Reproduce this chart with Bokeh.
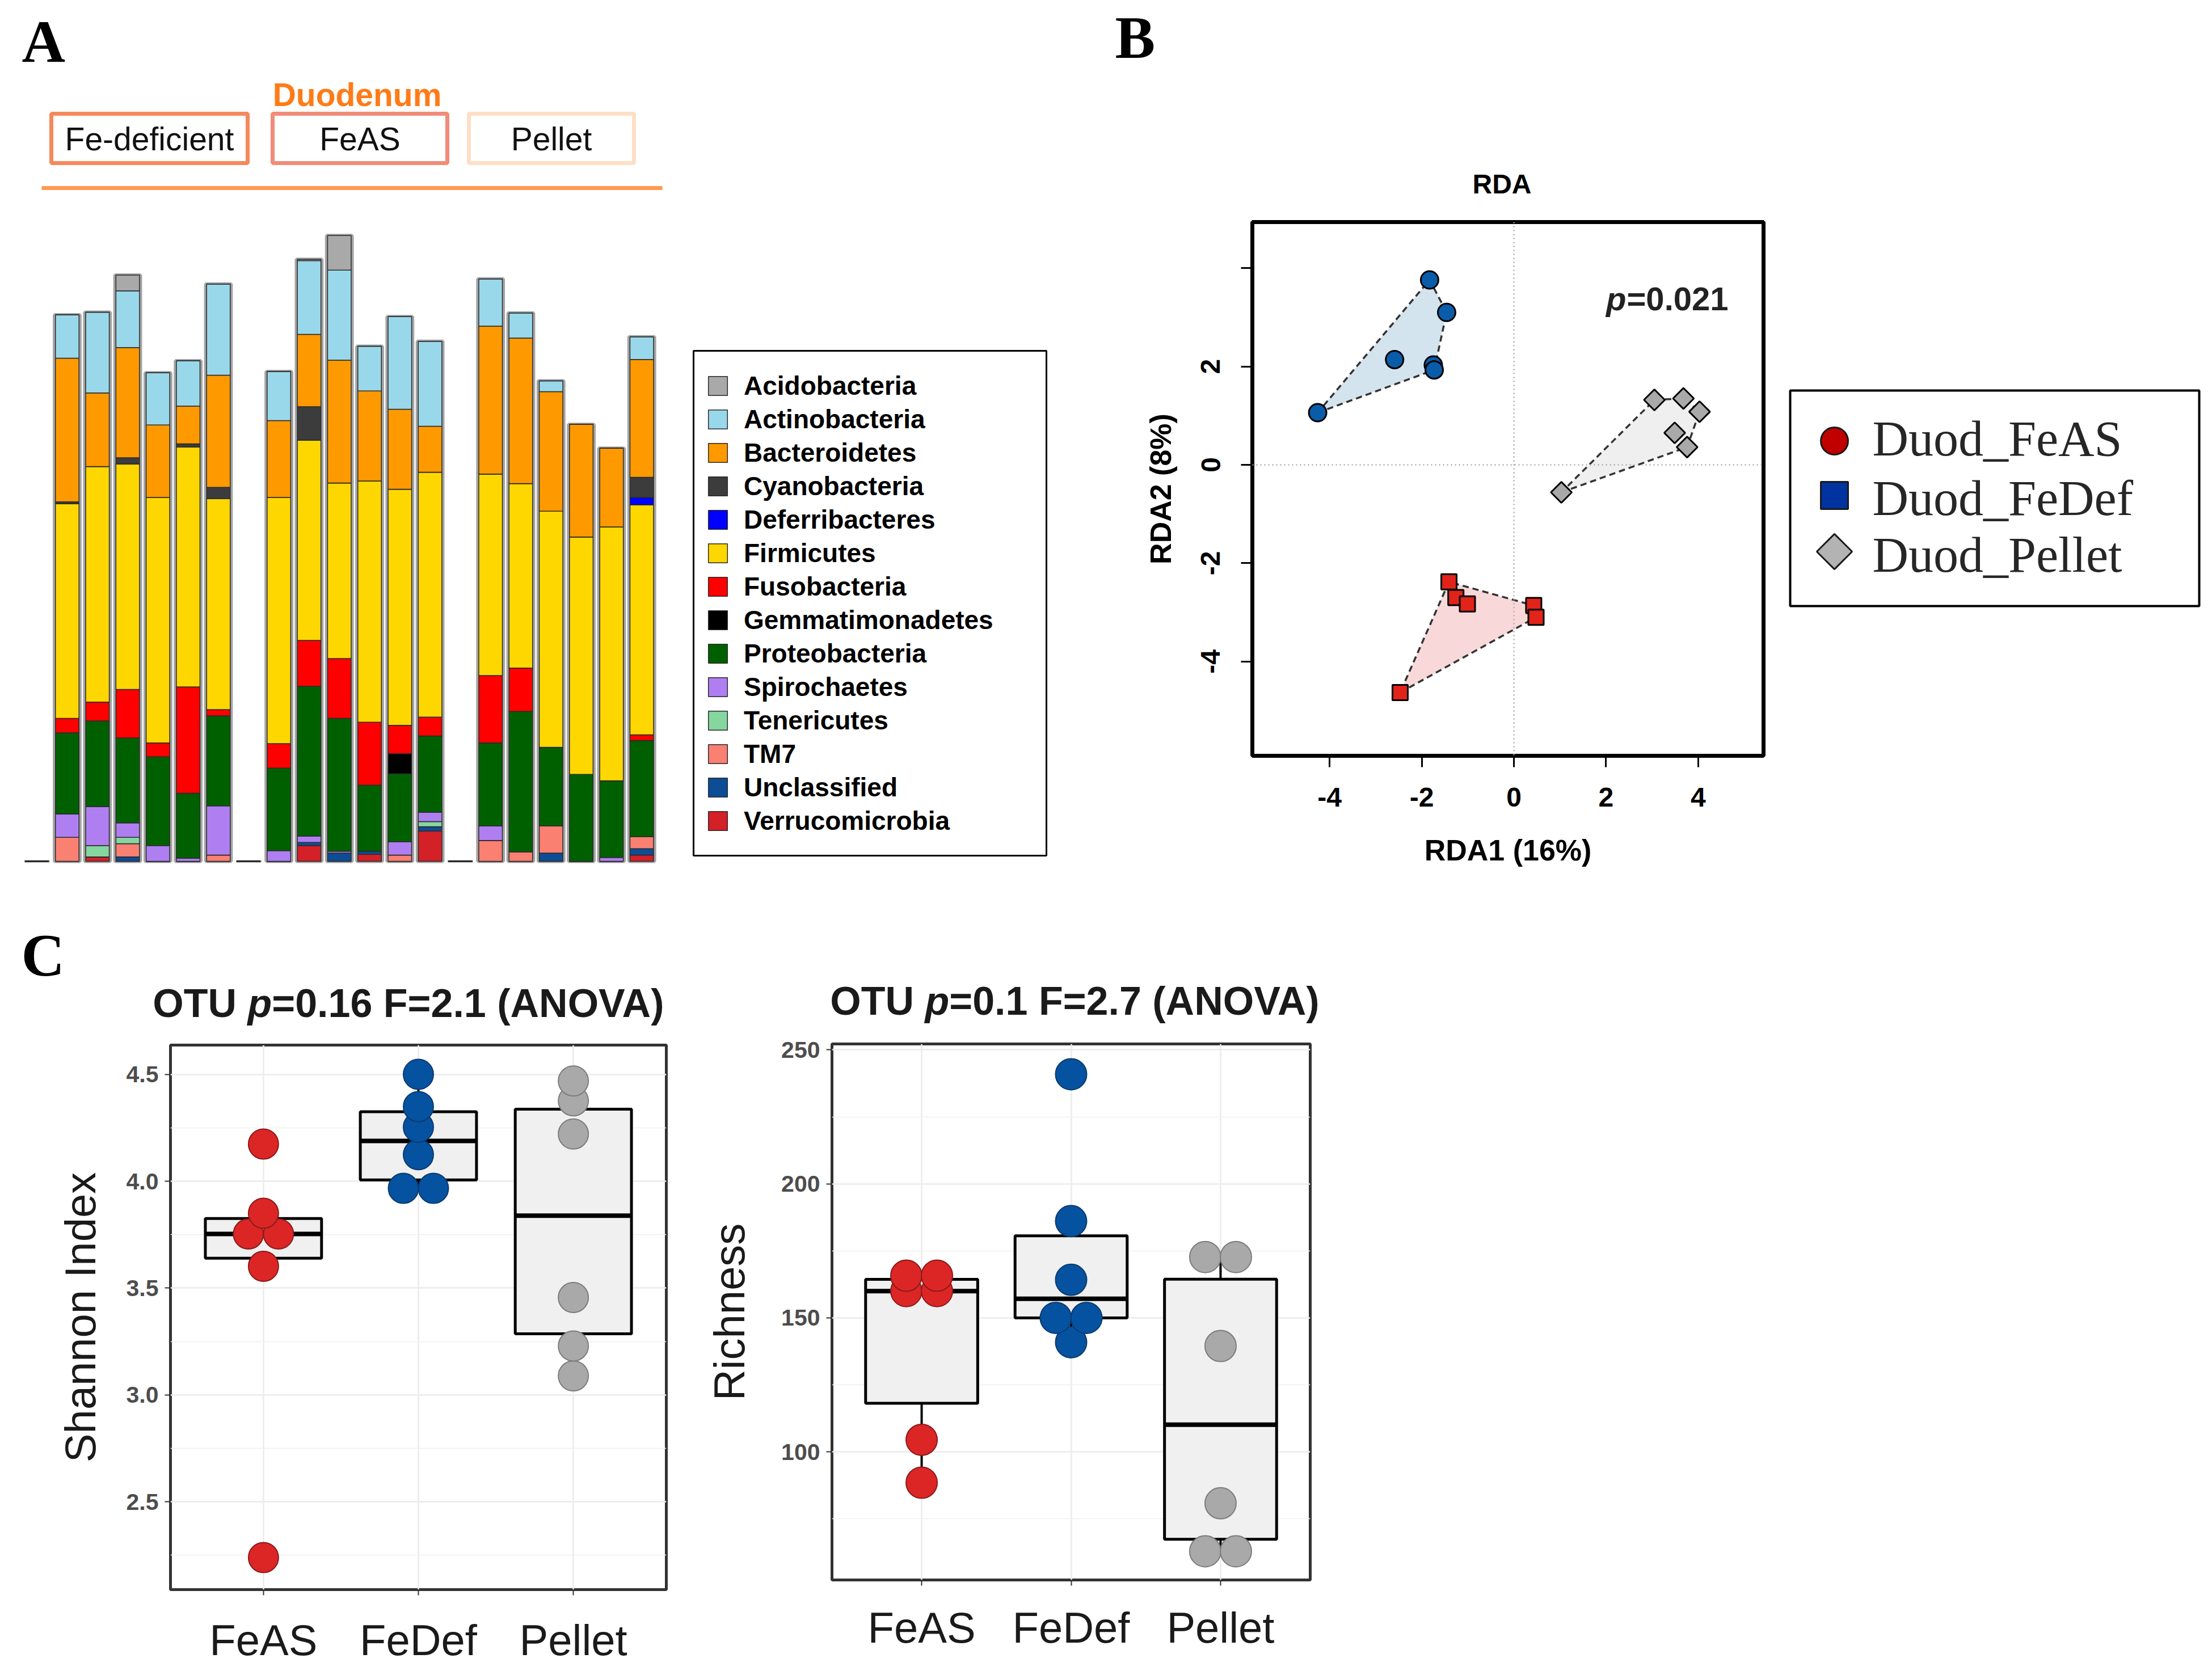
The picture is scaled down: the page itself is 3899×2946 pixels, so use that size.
import numpy as np
from bokeh.plotting import figure
from bokeh.models import (Label, BoxAnnotation, Legend, LegendItem, FixedTicker,
                          Range1d, ColumnDataSource, Span)
from bokeh.embed import file_html
from bokeh.resources import INLINE

SANS = "Liberation Sans"
SERIF = "Liberation Serif"

# ============================ DATA ============================
# ---- Panel A: stacked phylum abundance, 21 bar slots = 3 diets x (1 empty + 6 samples)
region_name = "Duodenum"
group_names = ["Fe-deficient", "FeAS", "Pellet"]
phyla = ["Acidobacteria", "Actinobacteria", "Bacteroidetes", "Cyanobacteria",
         "Deferribacteres", "Firmicutes", "Fusobacteria", "Gemmatimonadetes",
         "Proteobacteria", "Spirochaetes", "Tenericutes", "TM7", "Unclassified",
         "Verrucomicrobia"]
phylum_colors = ["#A9A9A9", "#99D8EA", "#FF9900", "#3C3C3C", "#0000FF", "#FFD700",
                 "#FF0000", "#000000", "#006000", "#AF7FF2", "#86D6A0", "#FA8072",
                 "#0C4D96", "#D42027"]

Acidobacteria    = [0, 0, 0, 2.5, 0, 0, 0,    0, 0, 0.2, 5.5, 0, 0, 0,    0, 0, 0, 0, 0, 0, 0]
Actinobacteria   = [0, 6.9, 12.8, 9.0, 8.3, 7.2, 14.5,    0, 7.8, 11.7, 14.3, 7.1, 14.7, 13.5,    0, 7.5, 4.0, 1.7, 0, 0, 3.6]
Bacteroidetes    = [0, 22.8, 11.7, 17.5, 11.5, 6.0, 17.8,    0, 12.2, 11.5, 19.5, 14.3, 12.7, 7.3,    0, 23.5, 23.1, 19.0, 17.9, 12.5, 18.7]
Cyanobacteria    = [0, 0.3, 0, 1.0, 0, 0.5, 1.8,    0, 0, 5.3, 0, 0, 0, 0,    0, 0, 0, 0, 0, 0, 3.2]
Deferribacteres  = [0, 0, 0, 0, 0, 0, 0,    0, 0, 0, 0, 0, 0, 0,    0, 0, 0, 0, 0, 0, 1.2]
Firmicutes       = [0, 34.1, 37.4, 35.8, 39.0, 38.1, 33.5,    0, 39.1, 31.8, 27.9, 38.3, 37.5, 38.9,    0, 32.0, 29.3, 37.5, 37.7, 40.3, 36.5]
Fusobacteria     = [0, 2.3, 3.0, 7.7, 2.2, 16.9, 1.0,    0, 3.9, 7.3, 9.5, 10.0, 4.5, 3.0,    0, 10.7, 6.9, 0, 0, 0, 0.9]
Gemmatimonadetes = [0, 0, 0, 0, 0, 0, 0,    0, 0, 0, 0, 0, 3.2, 0,    0, 0, 0, 0, 0, 0, 0]
Proteobacteria   = [0, 12.9, 13.6, 13.5, 14.1, 10.3, 14.3,    0, 13.1, 23.8, 21.1, 10.5, 10.8, 12.1,    0, 13.2, 22.3, 12.5, 13.8, 12.2, 15.3]
Spirochaetes     = [0, 3.7, 6.2, 2.3, 2.5, 0.5, 7.8,    0, 1.7, 1.0, 0.3, 0, 2.1, 1.5,    0, 2.3, 0, 0, 0, 0.6, 0]
Tenericutes      = [0, 0, 1.8, 1.0, 0, 0, 0,    0, 0, 0, 0, 0, 0, 0.8,    0, 0, 0, 0, 0, 0, 0]
TM7              = [0, 3.8, 0, 2.1, 0, 0, 1.0,    0, 0, 0, 0, 0, 1.0, 0,    0, 3.3, 1.5, 4.3, 0, 0, 1.9]
Unclassified     = [0, 0, 0, 0.7, 0, 0, 0,    0, 0, 0.5, 1.3, 0.5, 0, 0.7,    0, 0, 0, 1.3, 0, 0, 1.0]
Verrucomicrobia  = [0, 0, 0.7, 0, 0, 0, 0,    0, 0, 2.5, 0, 1.1, 0, 4.8,    0, 0, 0, 0, 0, 0, 1.0]

# ---- Panel B: RDA scores
rda_title = "RDA"
rda_xlabel = "RDA1 (16%)"
rda_ylabel = "RDA2 (8%)"
rda_p = "=0.021"
rda_ticks = [-4, -2, 0, 2, 4]
rda_xtick_labels = ["-4", "-2", "0", "2", "4"]
rda_ytick_labels = ["-4", "-2", "0", "2", ""]
fedef_x = [-1.83, -1.46, -2.59, -1.75, -1.73, -4.26]
fedef_y = [3.76, 3.10, 2.14, 2.03, 1.93, 1.06]
pellet_x = [3.05, 3.68, 4.03, 3.49, 3.76, 1.03]
pellet_y = [1.32, 1.35, 1.08, 0.65, 0.36, -0.56]
feas_x = [-1.41, -1.26, -1.01, 0.43, 0.48, -2.47]
feas_y = [-2.38, -2.70, -2.83, -2.86, -3.10, -4.63]
rda_legend_labels = ["Duod_FeAS", "Duod_FeDef", "Duod_Pellet"]

# ---- Panel C: alpha diversity
diet_labels = ["FeAS", "FeDef", "Pellet"]
shannon_FeAS = [4.174, 3.850, 3.753, 3.753, 3.602, 2.239]
shannon_FeDef = [4.500, 4.349, 4.253, 4.124, 3.967, 3.967]
shannon_Pellet = [4.469, 4.376, 4.221, 3.456, 3.229, 3.089]
richness_FeAS = [166.0, 165.5, 161.0, 159.0, 104.5, 88.5]
richness_FeDef = [240.9, 186.1, 164.2, 150.0, 150.0, 140.9]
richness_Pellet = [172.7, 172.7, 139.5, 80.8, 62.9, 62.9]
shannon_ticks = [2.5, 3.0, 3.5, 4.0, 4.5]
shannon_tick_labels = ["2.5", "3.0", "3.5", "4.0", "4.5"]
shannon_minor = [2.25, 2.75, 3.25, 3.75, 4.25]
richness_ticks = [100, 150, 200, 250]
richness_tick_labels = ["100", "150", "200", "250"]
richness_minor = [75, 125, 175, 225]
c1_title = ("OTU", "=0.16 F=2.1 (ANOVA)")
c2_title = ("OTU", "=0.1 F=2.7 (ANOVA)")

# ============================ HELPERS ============================
class Frame:
    """maps page pixel positions to data coordinates of one figure frame"""
    def __init__(self, left, top, width, height, xr, yr):
        self.l, self.t, self.w, self.h = left, top, width, height
        self.xr, self.yr = xr, yr

    def X(self, px):
        return self.xr[0] + (px - self.l) / self.w * (self.xr[1] - self.xr[0])

    def Y(self, py):
        return self.yr[1] - (py - self.t) / self.h * (self.yr[1] - self.yr[0])


def lab(p, fr, px, py, text, size, font=SANS, style="normal", color="#1A1A1A",
        align="left"):
    # py is the wanted baseline; bokeh's alphabetic anchor sits ~0.36 em above it
    p.add_layout(Label(x=fr.X(px), y=fr.Y(py - 0.36 * size), text=text,
                       text_font=font, text_font_style=style,
                       text_font_size=f"{size}px", text_color=color,
                       text_align=align, text_baseline="alphabetic"))


def box(p, fr, l, r, t, b, color, width):
    p.add_layout(BoxAnnotation(left=fr.X(l), right=fr.X(r), top=fr.Y(t), bottom=fr.Y(b),
                               fill_color=None, fill_alpha=0, line_color=color,
                               line_alpha=1.0, line_width=width))


def make_fig(L, T, W, H, frame, xr, yr, axes=True):
    """figure placed at page position (L, T); frame = (left, top, w, h) in page px"""
    fl, ft, fw, fh = frame
    kw = dict(width=W, height=H, x_range=Range1d(*xr), y_range=Range1d(*yr),
              min_border_left=fl - L, min_border_top=ft - T,
              min_border_right=L + W - fl - fw, min_border_bottom=T + H - ft - fh,
              output_backend="svg", toolbar_location=None, title=None,
              background_fill_color="white", border_fill_color="white",
              styles={"position": "absolute", "left": f"{L}px", "top": f"{T}px"})
    if not axes:
        kw.update(x_axis_location=None, y_axis_location=None)
    p = figure(**kw)
    if not axes:
        p.grid.visible = False
        p.outline_line_color = None
    return p, Frame(fl, ft, fw, fh, xr, yr)


def text_fig(L, T, W, H):
    return make_fig(L, T, W, H, (L, T, W, H), (0, W), (0, H), axes=False)


def convex_hull(xs, ys):
    pts = sorted(zip(xs, ys))

    def cross(o, a, b):
        return (a[0] - o[0]) * (b[1] - o[1]) - (a[1] - o[1]) * (b[0] - o[0])
    lower, upper = [], []
    for q in pts:
        while len(lower) >= 2 and cross(lower[-2], lower[-1], q) <= 0:
            lower.pop()
        lower.append(q)
    for q in reversed(pts):
        while len(upper) >= 2 and cross(upper[-2], upper[-1], q) <= 0:
            upper.pop()
        upper.append(q)
    h = lower[:-1] + upper[:-1]
    return [q[0] for q in h], [q[1] for q in h]


def dot_layout(vals, bw):
    v = sorted(vals)
    bins, cur = [], [v[0]]
    for a in v[1:]:
        if a - cur[0] < bw:
            cur.append(a)
        else:
            bins.append(cur)
            cur = [a]
    bins.append(cur)
    out = []
    for b in bins:
        c = (b[0] + b[-1]) / 2.0
        n = len(b)
        for k in range(n):
            out.append((k - (n - 1) / 2.0, c))
    return out

# ============================ PANEL A ============================
A_L, A_T, A_W, A_H = 8, 8, 1882, 1584
slot0_px, slot_pitch_px = 64.7, 53.3
base_px, unit_px = 1518.0, 11.1
xrA = ((A_L - slot0_px) / slot_pitch_px, (A_L + A_W - slot0_px) / slot_pitch_px)
yrA = ((base_px - (A_T + A_H)) / unit_px, (base_px - A_T) / unit_px)
pA, fA = make_fig(A_L, A_T, A_W, A_H, (A_L, A_T, A_W, A_H), xrA, yrA, axes=False)

abund = dict(zip(phyla, [Acidobacteria, Actinobacteria, Bacteroidetes, Cyanobacteria,
                         Deferribacteres, Firmicutes, Fusobacteria, Gemmatimonadetes,
                         Proteobacteria, Spirochaetes, Tenericutes, TM7, Unclassified,
                         Verrucomicrobia]))
color_of = dict(zip(phyla, phylum_colors))
slots = list(range(len(Firmicutes)))
totals = [sum(abund[ph][i] for ph in phyla) for i in slots]
filled = [i for i in slots if totals[i] > 0]
empty = [i for i in slots if totals[i] == 0]

pA.vbar(x=filled, top=[totals[i] for i in filled], bottom=0, width=0.84,
        fill_color=None, line_color="#A4A4A4", line_width=6)
pA.segment(x0=[e - 0.42 for e in empty], x1=[e + 0.42 for e in empty],
           y0=[0] * len(empty), y1=[0] * len(empty), line_color="#9A9A9A", line_width=4)
srcA = ColumnDataSource(dict(slot=slots, **{ph: abund[ph] for ph in phyla}))
stack_order = phyla[::-1]
rs = pA.vbar_stack(stack_order, x="slot", width=0.78, source=srcA,
                   fill_color=[color_of[ph] for ph in stack_order],
                   line_color="#2B2B2B", line_width=1.5)
r_of = dict(zip(stack_order, rs))
legA = Legend(items=[LegendItem(label=ph, renderers=[r_of[ph]]) for ph in phyla],
              location=(1236, 118), glyph_width=42, glyph_height=42, spacing=5,
              padding=10, margin=0, label_standoff=25,
              label_text_font=SANS, label_text_font_style="bold",
              label_text_font_size="46px", label_text_color="black",
              border_line_color=None, background_fill_alpha=0)
pA.add_layout(legA)
box(pA, fA, 1222, 1844, 618, 1508, "black", 3)

# header
lab(pA, fA, 38, 111, "A", 106, font=SERIF, style="bold", color="black")
lab(pA, fA, 629, 187, region_name, 57, style="bold", color="#FF7B17", align="center")
hdr_px = [(90, 436), (480, 788), (826, 1117)]
hdr_cols = ["#F5895C", "#F08C78", "#FDDFC6"]
for (l, r), c, name in zip(hdr_px, hdr_cols, group_names):
    box(pA, fA, l, r, 200, 287, c, 7)
    lab(pA, fA, (l + r) / 2, 265, name, 57, color="#111111", align="center")
pA.segment(x0=[fA.X(73)], x1=[fA.X(1167)], y0=[fA.Y(331)], y1=[fA.Y(331)],
           line_color="#FF9A50", line_width=7)

# ============================ PANEL B ============================
pBt, fBt = text_fig(1890, 8, 1250, 372)
lab(pBt, fBt, 1965, 104, "B", 106, font=SERIF, style="bold", color="black")
lab(pBt, fBt, 2647, 341, rda_title, 48, style="bold", color="black", align="center")

bfl, bft, bfw, bfh = 2207, 391, 901, 941
xrB = ((bfl - 2668) / 81.2, (bfl + bfw - 2668) / 81.2)
yrB = (-(bft + bfh - 819) / 86.7, (819 - bft) / 86.7)
pB, fB = make_fig(1890, 380, 1250, 1212, (bfl, bft, bfw, bfh), xrB, yrB)
pB.grid.visible = False
pB.outline_line_color = "black"
pB.outline_line_width = 7
for ax, labels in ((pB.xaxis, rda_xtick_labels), (pB.yaxis, rda_ytick_labels)):
    ax.ticker = FixedTicker(ticks=rda_ticks)
    ax.major_label_overrides = dict(zip(rda_ticks, labels))
    ax.axis_line_color = None
    ax.major_tick_line_color = "black"
    ax.major_tick_line_width = 3
    ax.major_tick_out = 20
    ax.major_tick_in = 0
    ax.minor_tick_line_color = None
    ax.major_label_text_font = SANS
    ax.major_label_text_font_style = "bold"
    ax.major_label_text_font_size = "48px"
    ax.major_label_text_color = "black"
    ax.axis_label_text_font = SANS
    ax.axis_label_text_font_style = "bold"
    ax.axis_label_text_font_size = "52px"
    ax.axis_label_text_color = "black"
pB.xaxis.axis_label = rda_xlabel
pB.yaxis.axis_label = rda_ylabel
pB.xaxis.major_label_standoff = 36
pB.xaxis.axis_label_standoff = 45
pB.yaxis.major_label_standoff = 37
pB.yaxis.axis_label_standoff = 40
pB.yaxis.major_label_orientation = "parallel"

pB.add_layout(Span(location=0, dimension="height", line_color="#A8A8A8",
                   line_dash="2 5", line_width=2.5))
pB.add_layout(Span(location=0, dimension="width", line_color="#A8A8A8",
                   line_dash="2 5", line_width=2.5))

groupsB = [
    (fedef_x, fedef_y, "#D4E4EE", dict(marker="circle", size=31, fill_color="#0A5CA8")),
    (pellet_x, pellet_y, "#EFEFEF", dict(marker="square", size=26, angle=np.pi / 4,
                                         fill_color="#A9A9A9")),
    (feas_x, feas_y, "#F8D8D8", dict(marker="square", size=27, fill_color="#E2231A")),
]
for gx, gy, hull_col, _ in groupsB:
    hx, hy = convex_hull(gx, gy)
    pB.patch(hx, hy, fill_color=hull_col, fill_alpha=1.0, line_color="#333333",
             line_width=3.5, line_dash="11 7")
for gx, gy, _, mk in groupsB:
    pB.scatter(gx, gy, line_color="black", line_width=3, **mk)

lab(pB, fB, 2866, 547, "p", 58, style="bold italic", color="#222222", align="right")
lab(pB, fB, 2867, 547, rda_p, 58, style="bold", color="#222222", align="left")

# ---- legend for B
pBL, fBL = text_fig(3140, 8, 751, 1584)
box(pBL, fBL, 3155, 3876, 688, 1068, "black", 4)
key_y = [777, 873, 972]
key_styles = [dict(marker="circle", size=48, fill_color="#C00000"),
              dict(marker="square", size=48, fill_color="#0033A0"),
              dict(marker="square", size=44, angle=np.pi / 4, fill_color="#B3B3B3")]
base_y = [805, 910, 1010]
for ky, st, by, txt in zip(key_y, key_styles, base_y, rda_legend_labels):
    pBL.scatter([fBL.X(3233)], [fBL.Y(ky)], line_color="#1A1A1A", line_width=3, **st)
    lab(pBL, fBL, 3300, by, txt, 88, font=SERIF, color="#262626")

# ============================ PANEL C ============================
fills = ["#DC2626", "#0552A0", "#A9A9A9"]
lines = ["#8B1A1A", "#0B3A6E", "#7C7C7C"]


def box_panel(L, T, W, H, frame, yr, ticks, tick_labels, minor, ylabel,
              ylabel_standoff, xlab_standoff, groups_vals, bw, dot_px):
    xr = (0.4, 3.6)
    p, fr = make_fig(L, T, W, H, frame, xr, yr)
    fw = frame[2]
    p.outline_line_color = "#333333"
    p.outline_line_width = 5
    xt = FixedTicker(ticks=[1, 2, 3])
    yt = FixedTicker(ticks=ticks, minor_ticks=minor)
    p.xaxis.ticker = xt
    p.xgrid.ticker = xt
    p.yaxis.ticker = yt
    p.ygrid.ticker = yt
    p.xaxis.major_label_overrides = dict(zip([1, 2, 3], diet_labels))
    p.yaxis.major_label_overrides = dict(zip(ticks, tick_labels))
    p.grid.grid_line_color = "#EBEBEB"
    p.grid.grid_line_width = 2.5
    p.ygrid.minor_grid_line_color = "#F0F0F0"
    p.ygrid.minor_grid_line_width = 1.5
    for ax in (p.xaxis, p.yaxis):
        ax.axis_line_color = None
        ax.major_tick_line_color = "#333333"
        ax.major_tick_line_width = 2
        ax.major_tick_out = 10
        ax.major_tick_in = 0
        ax.minor_tick_line_color = None
    p.xaxis.major_label_text_font = SANS
    p.xaxis.major_label_text_font_size = "76px"
    p.xaxis.major_label_text_color = "#1A1A1A"
    p.xaxis.major_label_standoff = xlab_standoff
    p.yaxis.major_label_text_font = SANS
    p.yaxis.major_label_text_font_style = "bold"
    p.yaxis.major_label_text_font_size = "41px"
    p.yaxis.major_label_text_color = "#4D4D4D"
    p.yaxis.major_label_standoff = 11
    p.yaxis.axis_label = ylabel
    p.yaxis.axis_label_text_font = SANS
    p.yaxis.axis_label_text_font_style = "normal"
    p.yaxis.axis_label_text_font_size = "76px"
    p.yaxis.axis_label_text_color = "#1A1A1A"
    p.yaxis.axis_label_standoff = ylabel_standoff

    px_per_x = fw / (xr[1] - xr[0])
    for gi, vals in enumerate(groups_vals, start=1):
        v = np.array(vals, dtype=float)
        q1, med, q3 = np.percentile(v, [25, 50, 75])
        iqr = q3 - q1
        lo = v[v >= q1 - 1.5 * iqr].min()
        hi = v[v <= q3 + 1.5 * iqr].max()
        p.segment(x0=[gi, gi], x1=[gi, gi], y0=[q3, q1], y1=[hi, lo],
                  line_color="black", line_width=4)
        p.quad(left=[gi - 0.375], right=[gi + 0.375], bottom=[q1], top=[q3],
               fill_color="#F0F0F0", line_color="black", line_width=5)
        p.segment(x0=[gi - 0.375], x1=[gi + 0.375], y0=[med], y1=[med],
                  line_color="black", line_width=8)
    for gi, vals in enumerate(groups_vals, start=1):
        lay = dot_layout(vals, bw)
        xs = [gi + off * dot_px / px_per_x for off, _ in lay]
        ys = [c for _, c in lay]
        p.scatter(xs, ys, marker="circle", size=dot_px, fill_color=fills[gi - 1],
                  fill_alpha=1.0, line_color=lines[gi - 1], line_width=2)
    return p, fr


# title strip for panel C
C_TOP = 1815
pCt, fCt = text_fig(8, 1592, 2412, C_TOP - 1592)
lab(pCt, fCt, 37, 1722, "C", 106, font=SERIF, style="bold", color="black")
fs = 70
for (pre, post), xp, base in ((c1_title, 436, 1794), (c2_title, 1630, 1790)):
    lab(pCt, fCt, xp - 0.278 * fs, base, pre, fs, style="bold", align="right")
    lab(pCt, fCt, xp, base, "p", fs, style="bold italic", align="left")
    lab(pCt, fCt, xp + 0.611 * fs, base, post, fs, style="bold", align="left")

pC1, fC1 = box_panel(8, C_TOP, 1232, 2938 - C_TOP, (300, 1842, 874, 960), (2.089, 4.637),
                     shannon_ticks, shannon_tick_labels, shannon_minor, "Shannon Index",
                     36, 36, [shannon_FeAS, shannon_FeDef, shannon_Pellet], 0.05, 53)
pC2, fC2 = box_panel(1240, C_TOP, 1180, 2938 - C_TOP, (1452, 1840, 857, 945), (52.2, 252.2),
                     richness_ticks, richness_tick_labels, richness_minor, "Richness",
                     46, 31, [richness_FeAS, richness_FeDef, richness_Pellet], 4.0, 55)

roots = [pA, pBt, pB, pBL, pCt, pC1, pC2]
open("out.html", "w").write(file_html(roots, INLINE))
